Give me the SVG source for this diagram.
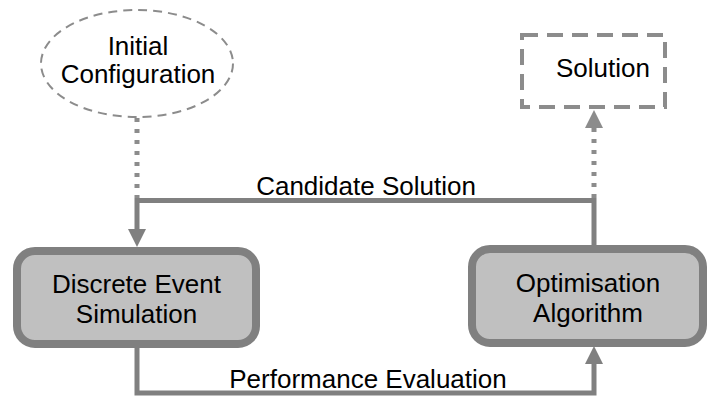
<svg xmlns="http://www.w3.org/2000/svg" width="708" height="397" viewBox="0 0 708 397">
<style>
.conn{fill:none;stroke:#808080;stroke-width:5}
.dot{fill:none;stroke:#8c8c8c;stroke-width:5;stroke-dasharray:4 7}
.box rect{fill:#c0c0c0;stroke:#808080;stroke-width:8}
.dashbox{fill:none;stroke:#8c8c8c}
text{font-family:"Liberation Sans",Arial,sans-serif;font-size:26px;fill:#000;text-anchor:middle}
</style>
<defs>
<marker id="ah" markerUnits="userSpaceOnUse" markerWidth="18" markerHeight="18" refX="0" refY="9" orient="auto" viewBox="0 0 18 18">
<path d="M0,0 L18,9 L0,18 z" fill="#808080"/>
</marker>
<marker id="ahl" markerUnits="userSpaceOnUse" markerWidth="18" markerHeight="18" refX="0" refY="9" orient="auto" viewBox="0 0 18 18">
<path d="M0,0 L18,9 L0,18 z" fill="#8c8c8c"/>
</marker>
</defs>
<g id="connectors">
<path class="dot" d="M137,118 V198"/>
<path class="dot" d="M594,198 V128" marker-end="url(#ahl)"/>
<path class="conn" d="M594,246 V200.5 H137 V229" marker-end="url(#ah)"/>
<path class="conn" d="M137,348 V393 H594 V364" marker-end="url(#ah)"/>
<text x="366" y="195">Candidate Solution</text>
<text x="368" y="388">Performance Evaluation</text>
</g>
<g id="initial">
<ellipse class="dashbox" cx="137" cy="63.5" rx="96" ry="53.5" stroke-width="2" stroke-dasharray="9 6"/>
<text x="138" y="55">Initial</text>
<text x="138" y="83">Configuration</text>
</g>
<g id="solution">
<rect class="dashbox" x="522" y="35" width="143" height="72" stroke-width="4" stroke-dasharray="16 9"/>
<text x="603" y="77">Solution</text>
</g>
<g id="des" class="box">
<rect x="17" y="251" width="239" height="93" rx="18"/>
<text x="136.5" y="293">Discrete Event</text>
<text x="136.5" y="323">Simulation</text>
</g>
<g id="opt" class="box">
<rect x="472" y="249" width="231" height="94" rx="18"/>
<text x="588" y="292">Optimisation</text>
<text x="588" y="322">Algorithm</text>
</g>
</svg>
